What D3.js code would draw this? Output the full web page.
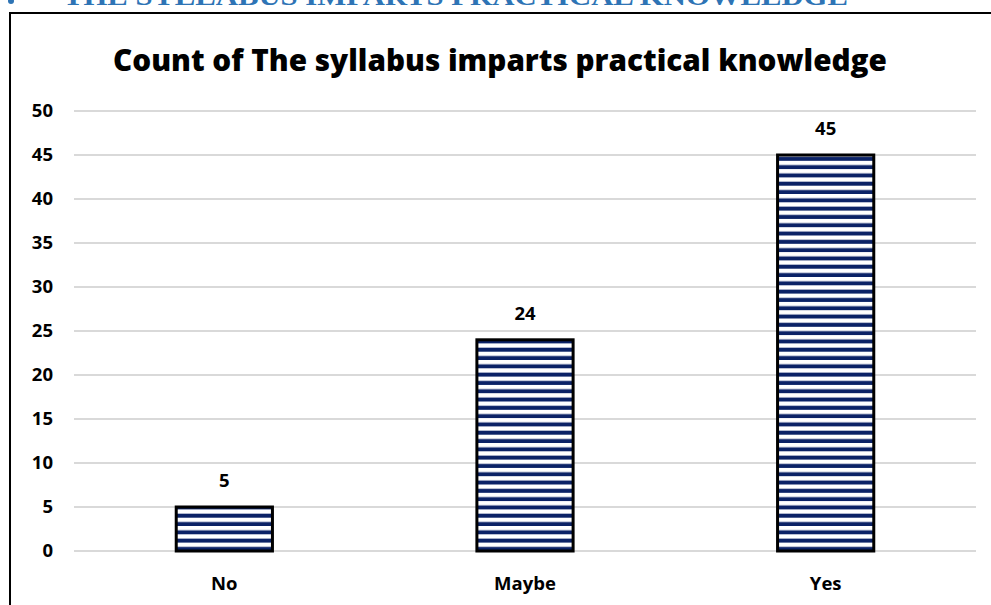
<!DOCTYPE html>
<html>
<head>
<meta charset="utf-8">
<script src="https://cdn.jsdelivr.net/npm/d3@7"></script>
<style>
  body { margin: 0; background: #fff; }
  text { font-family: "Open Sans", "Liberation Sans", sans-serif; font-weight: bold; }
</style>
</head>
<body>
<svg width="991" height="605"></svg>
<script>
var categories = ["No", "Maybe", "Yes"],
    counts = [5, 24, 45],
    yTicks = [0, 5, 10, 15, 20, 25, 30, 35, 40, 45, 50];

var heading = "THE SYLLABUS IMPARTS PRACTICAL KNOWLEDGE",
    title = "Count of The syllabus imparts practical knowledge";

var svg = d3.select("svg"),
    margin = {top: 111, right: 15, bottom: 54, left: 74},
    width = svg.attr("width") - margin.left - margin.right,
    height = svg.attr("height") - margin.top - margin.bottom;

// stripe fill like the excel pattern
var defs = svg.append("defs");
var pat = defs.append("pattern")
    .attr("id", "stripes")
    .attr("patternUnits", "userSpaceOnUse")
    .attr("width", 8).attr("height", 8.3);
pat.append("rect").attr("width", 8).attr("height", 8.3).attr("fill", "#fff");
pat.append("rect").attr("y", 4.3).attr("width", 8).attr("height", 4).attr("fill", "#0b2266");

// heading of the document above the chart, cut by the top edge
svg.append("circle").attr("cx", 11).attr("cy", 1).attr("r", 3).attr("fill", "#2e74b5");
svg.append("text")
    .attr("x", 63).attr("y", 5)
    .attr("textLength", 785)
    .attr("lengthAdjust", "spacingAndGlyphs")
    .style("font-family", "'Liberation Serif', 'DejaVu Serif', serif")
    .style("font-size", "26px")
    .attr("fill", "#2e74b5")
    .text(heading);

// chart frame (runs off the right and bottom)
svg.append("rect")
    .attr("x", 10).attr("y", 13)
    .attr("width", 1000).attr("height", 700)
    .attr("fill", "none")
    .attr("stroke", "#000")
    .attr("stroke-width", 2);

var t = svg.append("text")
    .attr("x", 500).attr("y", 71)
    .attr("text-anchor", "middle")
    .style("font-size", "30px")
    .style("font-weight", "800")
    .attr("fill", "#000")
    .text(title);
var tw = t.node().getComputedTextLength();
t.style("font-size", (30 * 774 / tw) + "px");

var g = svg.append("g").attr("transform", "translate(" + margin.left + "," + margin.top + ")");

var x = d3.scaleBand().domain(categories).range([0, width]).paddingInner(0.68).paddingOuter(0.34);
var y = d3.scaleLinear().domain([0, 50]).range([height, 0]);

g.append("g")
    .selectAll("line")
    .data(yTicks)
    .enter().append("line")
      .attr("x1", 0).attr("x2", width)
      .attr("y1", function(d) { return y(d); })
      .attr("y2", function(d) { return y(d); })
      .attr("stroke", "#d9d9d9")
      .attr("stroke-width", 2);

var yAxis = g.append("g")
    .call(d3.axisLeft(y).tickValues(yTicks).tickSize(0).tickPadding(21));
yAxis.select(".domain").remove();
yAxis.selectAll("text")
    .style("font-size", "18.5px")
    .style("font-family", "'Open Sans', sans-serif")
    .attr("fill", "#000");

var xAxis = g.append("g")
    .attr("transform", "translate(0," + height + ")")
    .call(d3.axisBottom(x).tickSize(0).tickPadding(26));
xAxis.select(".domain").remove();
xAxis.selectAll("text")
    .style("font-size", "18.5px")
    .style("font-family", "'Open Sans', sans-serif")
    .attr("fill", "#000");

g.selectAll(".bar")
    .data(counts)
    .enter().append("rect")
      .attr("class", "bar")
      .attr("x", function(d, i) { return x(categories[i]); })
      .attr("y", function(d) { return y(d); })
      .attr("width", x.bandwidth())
      .attr("height", function(d) { return height - y(d); })
      .attr("fill", "url(#stripes)")
      .attr("stroke", "#000")
      .attr("stroke-width", 3);

g.selectAll(".label")
    .data(counts)
    .enter().append("text")
      .attr("class", "label")
      .attr("x", function(d, i) { return x(categories[i]) + x.bandwidth() / 2; })
      .attr("y", function(d) { return y(d) - 20; })
      .attr("text-anchor", "middle")
      .style("font-size", "18.5px")
      .attr("fill", "#000")
      .text(function(d) { return d; });
</script>
</body>
</html>
